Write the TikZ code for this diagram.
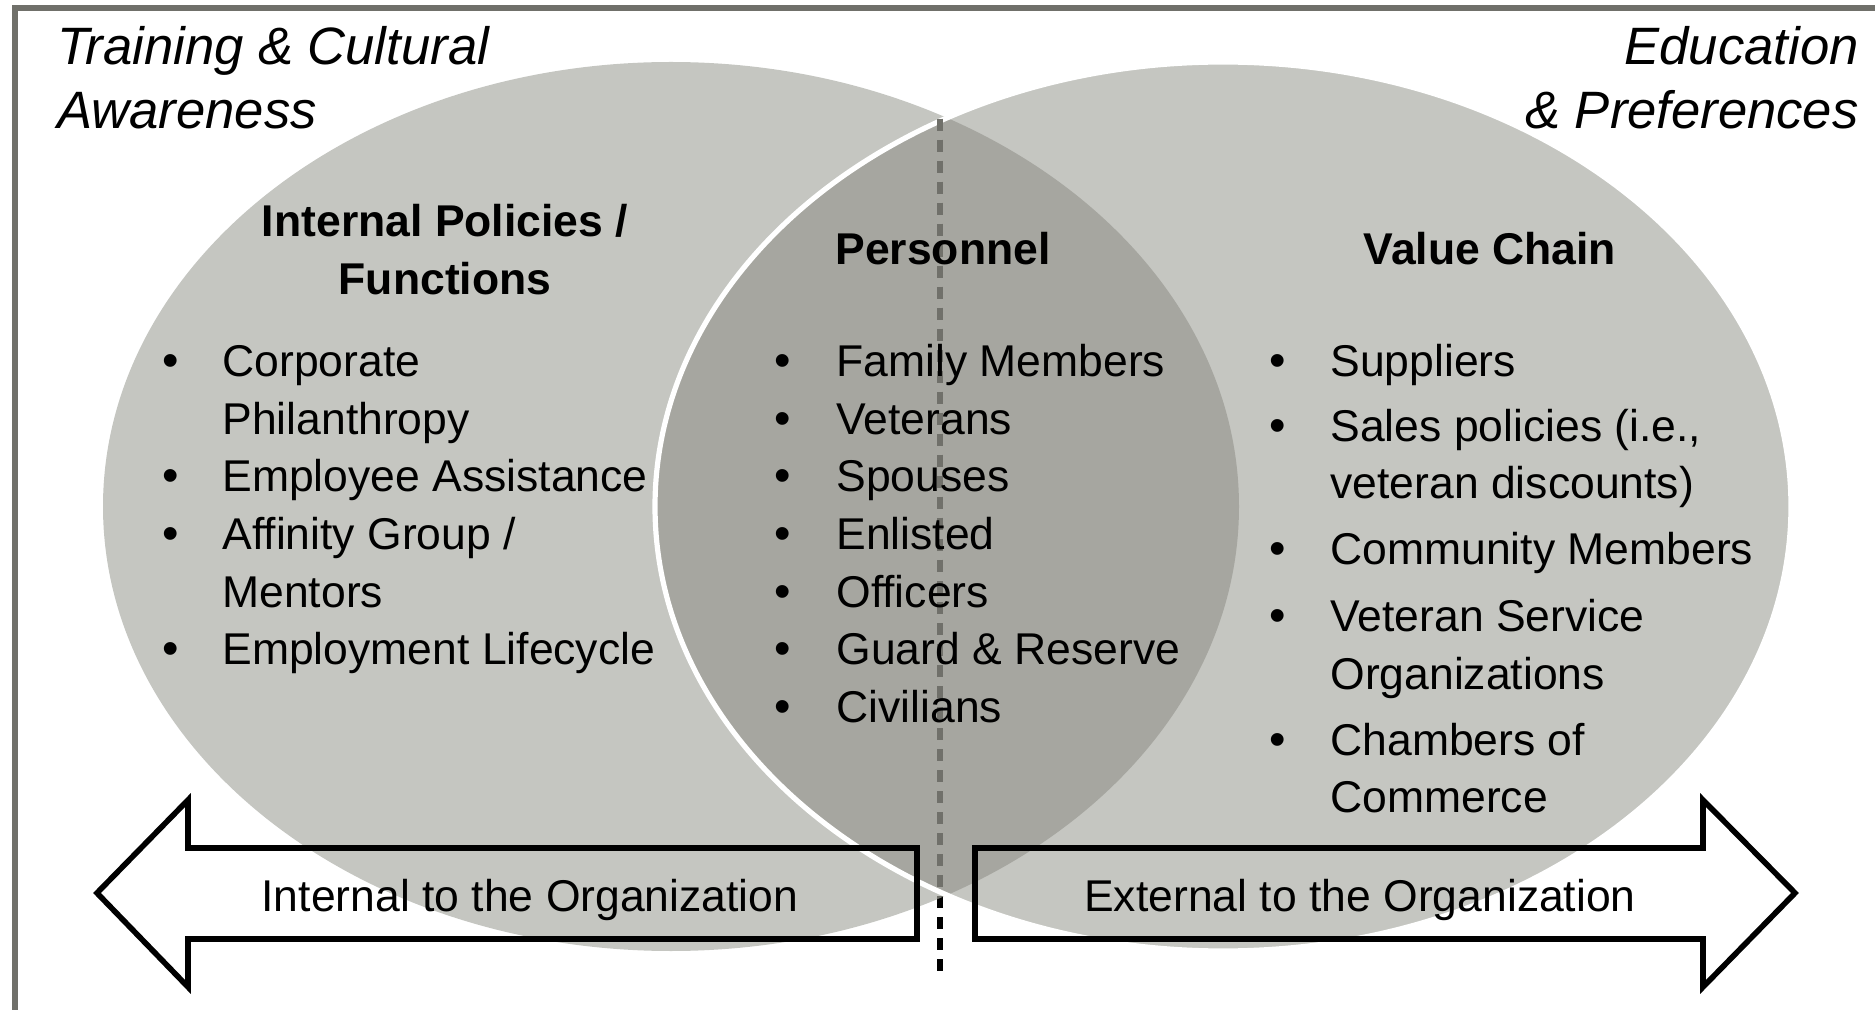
\documentclass[tikz,border=0pt]{standalone}
\usepackage{fontspec}
\setmainfont{Liberation Sans}
\usepackage{xcolor}
\usepackage{tikz}

\definecolor{ellgray}{RGB}{197,198,193}
\definecolor{lensgray}{RGB}{166,166,160}
\definecolor{framegray}{RGB}{112,112,106}

\begin{document}
\begin{tikzpicture}[x=0.5pt,y=0.5pt,yscale=-1,xscale=1,
	itemtxt/.style={anchor=base west,inner sep=0pt,font={\fontsize{22.25}{29}\selectfont}},
	itemdot/.style={anchor=base,inner sep=0pt,font={\fontsize{23.5}{29}\selectfont}},
	headtxt/.style={anchor=base,inner sep=0pt,font={\fontsize{22.25}{29}\selectfont\bfseries}},
	cornertxt/.style={inner sep=0pt,font={\fontsize{26.3}{32}\selectfont\itshape}},
	arrowtxt/.style={anchor=base,inner sep=0pt,font={\fontsize{22.25}{29}\selectfont}},
	bigarrow/.style={draw=black,line width=2.8pt,line join=miter}]
				\useasboundingbox (0,0) rectangle (1875,1010);
				
				%Shape: Rectangle [id:dp101] 
				\draw [color=framegray,line width=3pt] (14.5,8) rectangle (1905,1040) ;
				%Shape: Ellipse [id:dp102] 
				\fill [ellgray] (671,506.5) ellipse [x radius=568, y radius=444.5] ;
				%Shape: Ellipse [id:dp103] 
				\fill [ellgray] (1223,506.5) ellipse [x radius=568, y radius=444.5] ;
				%Shape: Ellipse [id:dp104] 
				\begin{scope}
				\clip (671,506.5) ellipse [x radius=568, y radius=444.5] ;
				\fill [lensgray] (1223,506.5) ellipse [x radius=568, y radius=444.5] ;
				\end{scope}
				\draw [color=white,line width=2.6pt] (1223,506.5) ellipse [x radius=568, y radius=444.5] ;
				
				%Straight Lines [id:da105] 
				\coordinate (cuttop) at (940,119) ;
				\coordinate (cutbot) at (940,976) ;
				\draw [color=black,line width=3.2pt,dash pattern={on 6pt off 4.5pt}] (cuttop) -- (cutbot) ;
				\begin{scope}
				\clip (671,506.5) ellipse [x radius=568, y radius=444.5] ;
				\draw [color=framegray,line width=3.2pt,dash pattern={on 6pt off 4.5pt}] (cuttop) -- (cutbot) ;
				\end{scope}
				
				%Shape: Left Arrow [id:dp106] 
				\draw [bigarrow] (97,893) -- (188,800) -- (188,848) -- (917,848) -- (917,939) -- (188,939) -- (188,987) -- cycle ;
				%Shape: Right Arrow [id:dp107] 
				\draw [bigarrow] (1795,893) -- (1703,800) -- (1703,848) -- (975,848) -- (975,939) -- (1703,939) -- (1703,987) -- cycle ;
				
				% Text Node
				\draw (57,65) node [cornertxt,anchor=base west] (train1) {Training \& Cultural} ;
				\draw (57,129) node [cornertxt,anchor=base west] (train2) {Awareness} ;
				\draw (1859,65) node [cornertxt,anchor=base east] (educ1) {Education} ;
				\draw (1859,129) node [cornertxt,anchor=base east] (educ2) {\& Preferences} ;
				
				% Text Node
				\draw (445,237) node [headtxt] (intpol1) {Internal Policies /} ;
				\draw (445,295) node [headtxt] (intpol2) {Functions} ;
				\draw (943,265) node [headtxt] (personnel) {Personnel} ;
				\draw (1490,265) node [headtxt] (valchain) {Value Chain} ;
				
				% Text Node
				\draw (171,377) node [itemdot] (dotl1) {•} ;
				\draw (222,377) node [itemtxt] (corp1) {Corporate} ;
				\draw (222,434.5) node [itemtxt] (corp2) {Philanthropy} ;
				\draw (171,492) node [itemdot] (dotl2) {•} ;
				\draw (222,492) node [itemtxt] (empass) {Employee Assistance} ;
				\draw (171,549.5) node [itemdot] (dotl3) {•} ;
				\draw (222,549.5) node [itemtxt] (affin1) {Affinity Group /} ;
				\draw (222,607) node [itemtxt] (affin2) {Mentors} ;
				\draw (171,664.5) node [itemdot] (dotl4) {•} ;
				\draw (222,664.5) node [itemtxt] (emplife) {Employment Lifecycle} ;
				
				% Text Node
				\draw (783,377) node [itemdot] (dotm1) {•} ;
				\draw (836,377) node [itemtxt] (family) {Family Members} ;
				\draw (783,434.5) node [itemdot] (dotm2) {•} ;
				\draw (836,434.5) node [itemtxt] (veterans) {Veterans} ;
				\draw (783,492) node [itemdot] (dotm3) {•} ;
				\draw (836,492) node [itemtxt] (spouses) {Spouses} ;
				\draw (783,549.5) node [itemdot] (dotm4) {•} ;
				\draw (836,549.5) node [itemtxt] (enlisted) {Enlisted} ;
				\draw (783,607) node [itemdot] (dotm5) {•} ;
				\draw (836,607) node [itemtxt] (officers) {Officers} ;
				\draw (783,664.5) node [itemdot] (dotm6) {•} ;
				\draw (836,664.5) node [itemtxt] (guard) {Guard \& Reserve} ;
				\draw (783,722) node [itemdot] (dotm7) {•} ;
				\draw (836,722) node [itemtxt] (civil) {Civilians} ;
				
				% Text Node
				\draw (1278,377) node [itemdot] (dotr1) {•} ;
				\draw (1330,377) node [itemtxt] (suppl) {Suppliers} ;
				\draw (1278,441.5) node [itemdot] (dotr2) {•} ;
				\draw (1330,441.5) node [itemtxt] (sales1) {Sales policies (i.e.,} ;
				\draw (1330,499) node [itemtxt] (sales2) {veteran discounts)} ;
				\draw (1278,565) node [itemdot] (dotr3) {•} ;
				\draw (1330,565) node [itemtxt] (commun) {Community Members} ;
				\draw (1278,631.5) node [itemdot] (dotr4) {•} ;
				\draw (1330,631.5) node [itemtxt] (vso1) {Veteran Service} ;
				\draw (1330,689) node [itemtxt] (vso2) {Organizations} ;
				\draw (1278,755) node [itemdot] (dotr5) {•} ;
				\draw (1330,755) node [itemtxt] (chamb1) {Chambers of} ;
				\draw (1330,812.5) node [itemtxt] (chamb2) {Commerce} ;
				
				% Text Node
				\draw (530,911) node [arrowtxt] (inttxt) {Internal to the Organization} ;
				\draw (1360,911) node [arrowtxt] (exttxt) {External to the Organization} ;
				
\end{tikzpicture}
\end{document}
